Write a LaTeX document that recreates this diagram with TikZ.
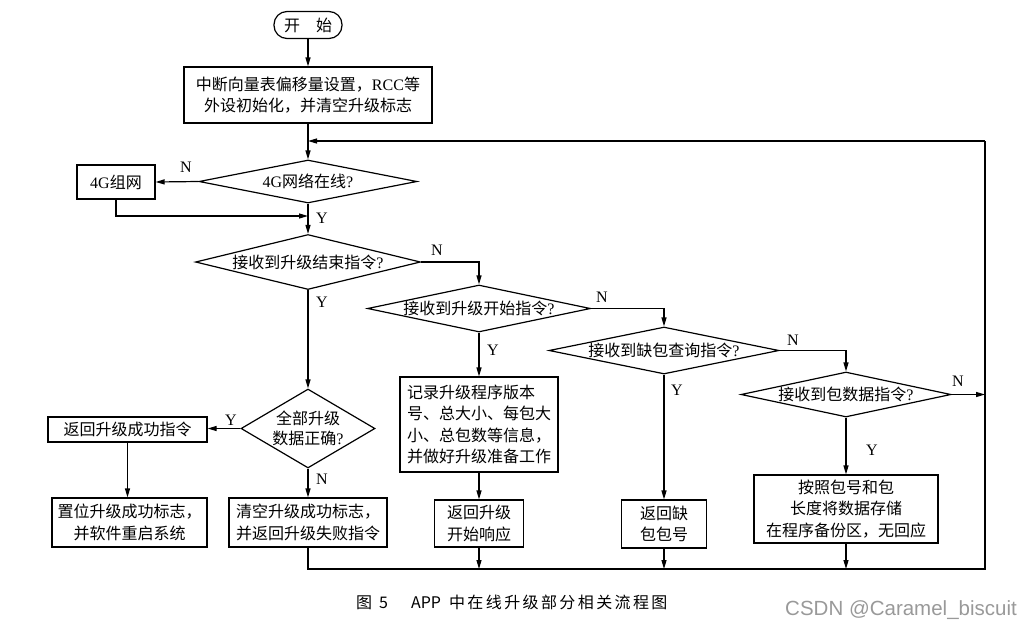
\documentclass[tikz,border=0pt]{standalone}
\usepackage{fontspec}
\setmainfont{Noto Sans CJK SC}
\newfontfamily\lat{Liberation Serif}
\newfontfamily\wmfont{Liberation Sans}
\usetikzlibrary{arrows.meta,shapes.geometric}
\tikzset{
  base/.style={font=\fontsize{16}{21.5}\selectfont},
  box/.style={base, draw, line width=1.2pt, rectangle, inner sep=0pt, align=center},
  term/.style={base, draw, line width=1.2pt, rounded corners=13pt, inner sep=0pt, minimum width=68pt, minimum height=27pt},
  dia/.style={draw, line width=1.2pt, diamond, inner sep=0pt},
  txt/.style={base, inner sep=0pt, align=center},
  lbl/.style={font=\lat\fontsize{16}{18}\selectfont, inner sep=0pt},
  ln/.style={line width=1.2pt},
  arr/.style={line width=1.2pt, -{Triangle[length=9pt,width=5pt]}},
}
\begin{document}
\begin{tikzpicture}[x=1pt,y=-1pt]
\useasboundingbox (0,0) rectangle (1032,630);
% nodes
\node[term] (start) at (308,25) {开\hspace{1em}始};
\node[box, minimum width=248pt, minimum height=56pt] (init) at (308,95) {中断向量表偏移量设置，{\lat RCC}等\\外设初始化，并清空升级标志};
\node[dia, minimum width=218pt, minimum height=43pt] (d1) at (308,181.5) {};
\node[txt] (t1) at (d1) {{\lat 4G}网络在线{\lat ?}};
\node[box, minimum width=78pt, minimum height=34pt] (g4) at (116,182) {{\lat 4G}组网};
\node[dia, minimum width=225pt, minimum height=55pt] (d2) at (308,262) {};
\node[txt] (t2) at (d2) {接收到升级结束指令{\lat ?}};
\node[dia, minimum width=223pt, minimum height=47pt] (d3) at (479,308.5) {};
\node[txt] (t3) at (d3) {接收到升级开始指令{\lat ?}};
\node[box, minimum width=158pt, minimum height=95pt, align=left] (rec) at (479,424.5) {记录升级程序版本\\号、总大小、每包大\\小、总包数等信息，\\并做好升级准备工作};
\node[box, minimum width=89pt, minimum height=47pt] (sresp) at (479,523.5) {返回升级\\开始响应};
\node[dia, minimum width=230pt, minimum height=47pt] (d5) at (664,350.5) {};
\node[txt] (t5) at (d5) {接收到缺包查询指令{\lat ?}};
\node[box, minimum width=85pt, minimum height=48pt] (miss) at (664,524) {返回缺\\包包号};
\node[dia, minimum width=210pt, minimum height=45pt] (d6) at (846,394.5) {};
\node[txt] (t6) at (d6) {接收到包数据指令{\lat ?}};
\node[box, minimum width=184pt, minimum height=68pt] (store) at (846,509) {按照包号和包\\长度将数据存储\\在程序备份区，无回应};
\node[dia, minimum width=134pt, minimum height=79pt] (d4) at (308,428.5) {};
\node[txt, font=\fontsize{16}{20}\selectfont] (t4) at (d4) {全部升级\\数据正确{\lat ?}};
\node[box, minimum width=159pt, minimum height=25pt] (succ) at (127.5,429.5) {返回升级成功指令};
\node[box, minimum width=155pt, minimum height=49pt] (setf) at (129.5,522.5) {置位升级成功标志，\\并软件重启系统};
\node[box, minimum width=158pt, minimum height=49pt] (clear) at (308,522.5) {清空升级成功标志，\\并返回升级失败指令};
% coordinates
\coordinate (br) at (985,569);
\coordinate (tr) at (985,141);
\coordinate (j) at (308,141);
\coordinate (j2) at (308,216);
% connectors
\draw[arr] (start.south) -- (init.north);
\draw[arr] (init.south) -- (d1.north);
\draw[ln] (clear.south) |- (br) -- (tr);
\draw[arr] (tr) -- (j);
\draw[arr] (d1.west) -- (g4.east);
\draw[arr] (g4.south) |- (j2);
\draw[arr] (d1.south) -- (d2.north);
\draw[arr] (d2.south) -- (d4.north);
\draw[arr] (d2.east) -| (d3.north);
\draw[arr] (d3.south) -- (rec.north);
\draw[arr] (rec.south) -- (sresp.north);
\draw[arr] (sresp.south) -- (sresp.south |- br);
\draw[arr] (d3.east) -| (d5.north);
\draw[arr] (d5.south) -- (miss.north);
\draw[arr] (miss.south) -- (miss.south |- br);
\draw[arr] (d5.east) -| (d6.north);
\draw[arr] (d6.south) -- (store.north);
\draw[arr] (store.south) -- (store.south |- br);
\draw[arr] (d6.east) -- (d6.east -| br);
\draw[arr] (d4.west) -- (d4.west -| succ.east);
\draw[arr] (succ.south) -- (succ.south |- setf.north);
\draw[arr] (d4.south) -- (clear.north);
% labels
\node[lbl] (n1) at (186,167) {N};
\node[lbl] (y1) at (322,218) {Y};
\node[lbl] (n2) at (437,250) {N};
\node[lbl] (y2) at (322,302) {Y};
\node[lbl] (n3) at (602,297) {N};
\node[lbl] (y3) at (493,350) {Y};
\node[lbl] (n5) at (793,340) {N};
\node[lbl] (y5) at (677,390) {Y};
\node[lbl] (n6) at (958,381) {N};
\node[lbl] (y6) at (872,450) {Y};
\node[lbl] (y4) at (231,420) {Y};
\node[lbl] (n4) at (322,479) {N};
% caption
\node[anchor=west, inner sep=0pt, font=\fontsize{16}{19}\selectfont] (cap) at (356,602) {图\hspace{7pt}5\hspace{23pt}APP\hspace{8pt}{\addfontfeature{LetterSpace=15}中在线升级部分相关流程图}};
\node[anchor=east, inner sep=0pt, text=black!40, font=\wmfont\fontsize{20.5}{24}\selectfont] (wm) at (1017,610) {CSDN @Caramel\_biscuit};
\end{tikzpicture}
\end{document}
